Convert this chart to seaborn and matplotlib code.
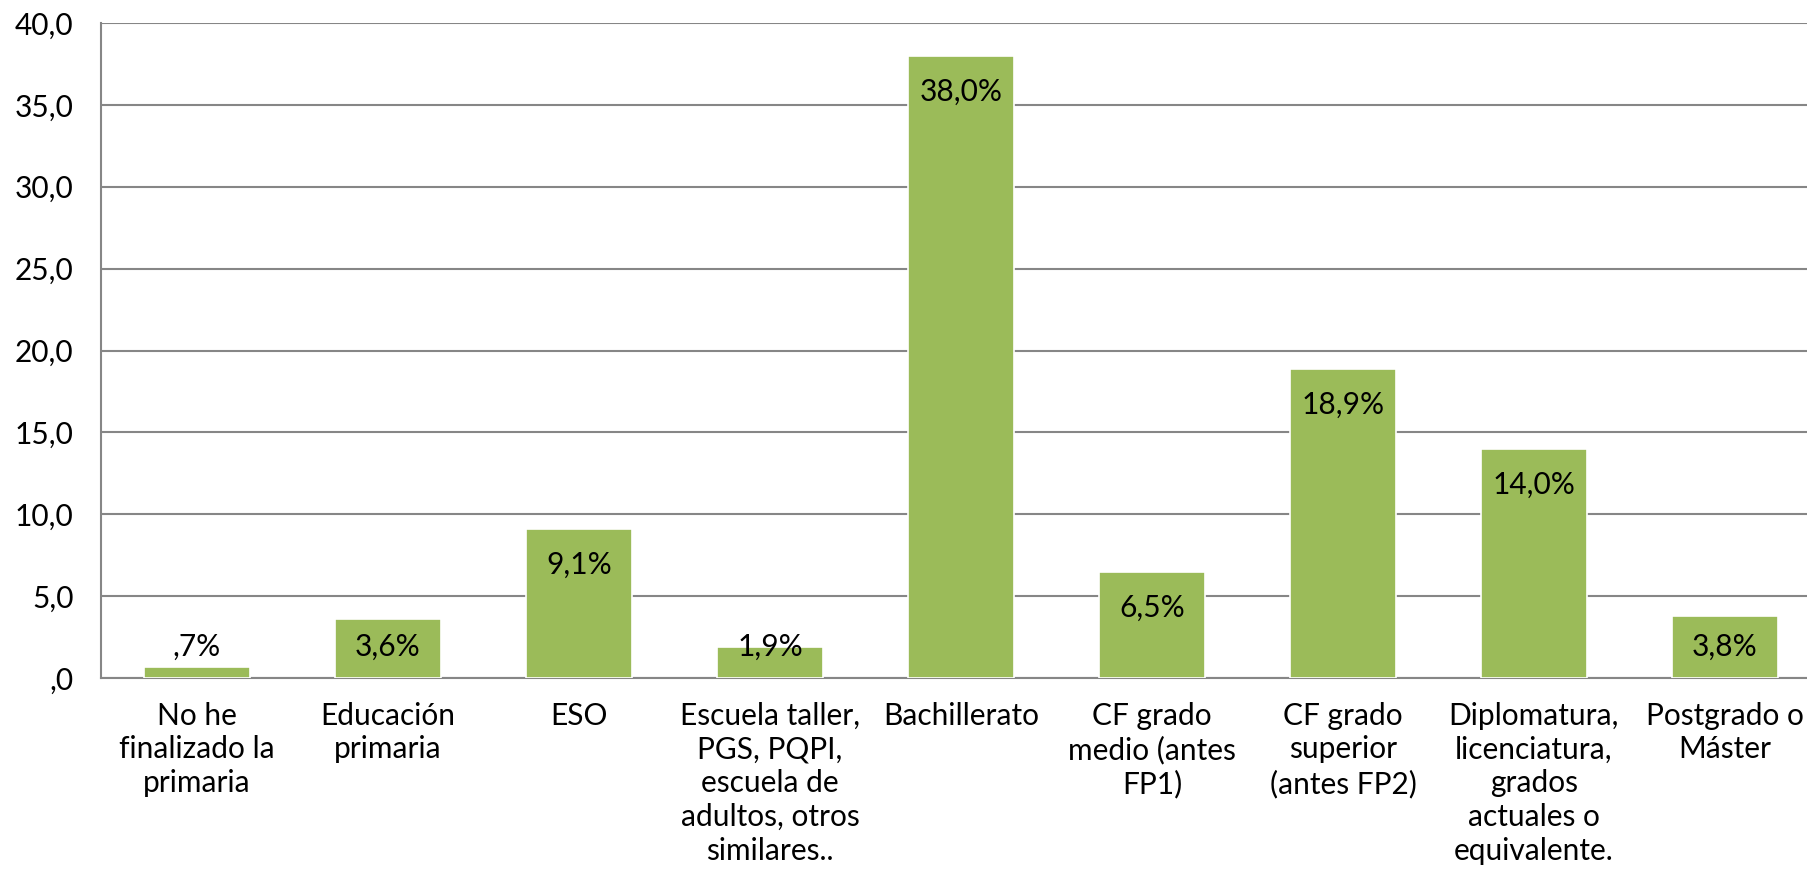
import matplotlib
matplotlib.use("Agg")
import matplotlib.pyplot as plt
import seaborn as sns
import pandas as pd

categories = [
    "No he\nfinalizado la\nprimaria",
    "Educación\nprimaria",
    "ESO",
    "Escuela taller,\nPGS, PQPI,\nescuela de\nadultos, otros\nsimilares..",
    "Bachillerato",
    "CF grado\nmedio (antes\nFP1)",
    "CF grado\nsuperior\n(antes FP2)",
    "Diplomatura,\nlicenciatura,\ngrados\nactuales o\nequivalente.",
    "Postgrado o\nMáster",
]
values = [0.7, 3.6, 9.1, 1.9, 38.0, 6.5, 18.9, 14.0, 3.8]
value_labels = [",7%", "3,6%", "9,1%", "1,9%", "38,0%", "6,5%", "18,9%", "14,0%", "3,8%"]
yticks = [0, 5, 10, 15, 20, 25, 30, 35, 40]
ytick_labels = [",0", "5,0", "10,0", "15,0", "20,0", "25,0", "30,0", "35,0", "40,0"]

sns.set_theme(style="white")
plt.rcParams["font.family"] = ["Lato", "DejaVu Sans"]

df = pd.DataFrame({"cat": categories, "val": values})

fig = plt.figure(figsize=(18.08, 8.89), dpi=100)
ax = fig.add_axes([101.5 / 1808, 211 / 889, 1719 / 1808, 655 / 889])

sns.barplot(data=df, x="cat", y="val", color="#9BBB59", saturation=1,
            width=0.56, edgecolor="white", linewidth=1.2, ax=ax, zorder=3)

ax.set_ylim(0, 40)
ax.set_xlim(-0.5, len(categories) - 0.5)
ax.set_yticks(yticks)
ax.set_yticklabels(ytick_labels)
ax.yaxis.grid(True, color="#868686", linewidth=1.5, zorder=0)
ax.set_axisbelow(True)
ax.set_xlabel("")
ax.set_ylabel("")

for s in ["top", "right"]:
    ax.spines[s].set_visible(False)
for s in ["left", "bottom"]:
    ax.spines[s].set_color("#868686")
    ax.spines[s].set_linewidth(1.5)

FS = 21.5
ax.tick_params(axis="y", length=0, pad=20, labelsize=FS, labelcolor="black")
ax.tick_params(axis="x", length=0, pad=17, labelsize=FS, labelcolor="black")
for t in ax.get_xticklabels():
    t.set_linespacing(1.25)
    t.set_ha("center")

for i, (v, lab) in enumerate(zip(values, value_labels)):
    ypos = max(v - 2.2, 1.9)
    ax.text(i, ypos, lab, ha="center", va="center", fontsize=FS, color="black", zorder=4)

fig.savefig("out.png", dpi=100)
